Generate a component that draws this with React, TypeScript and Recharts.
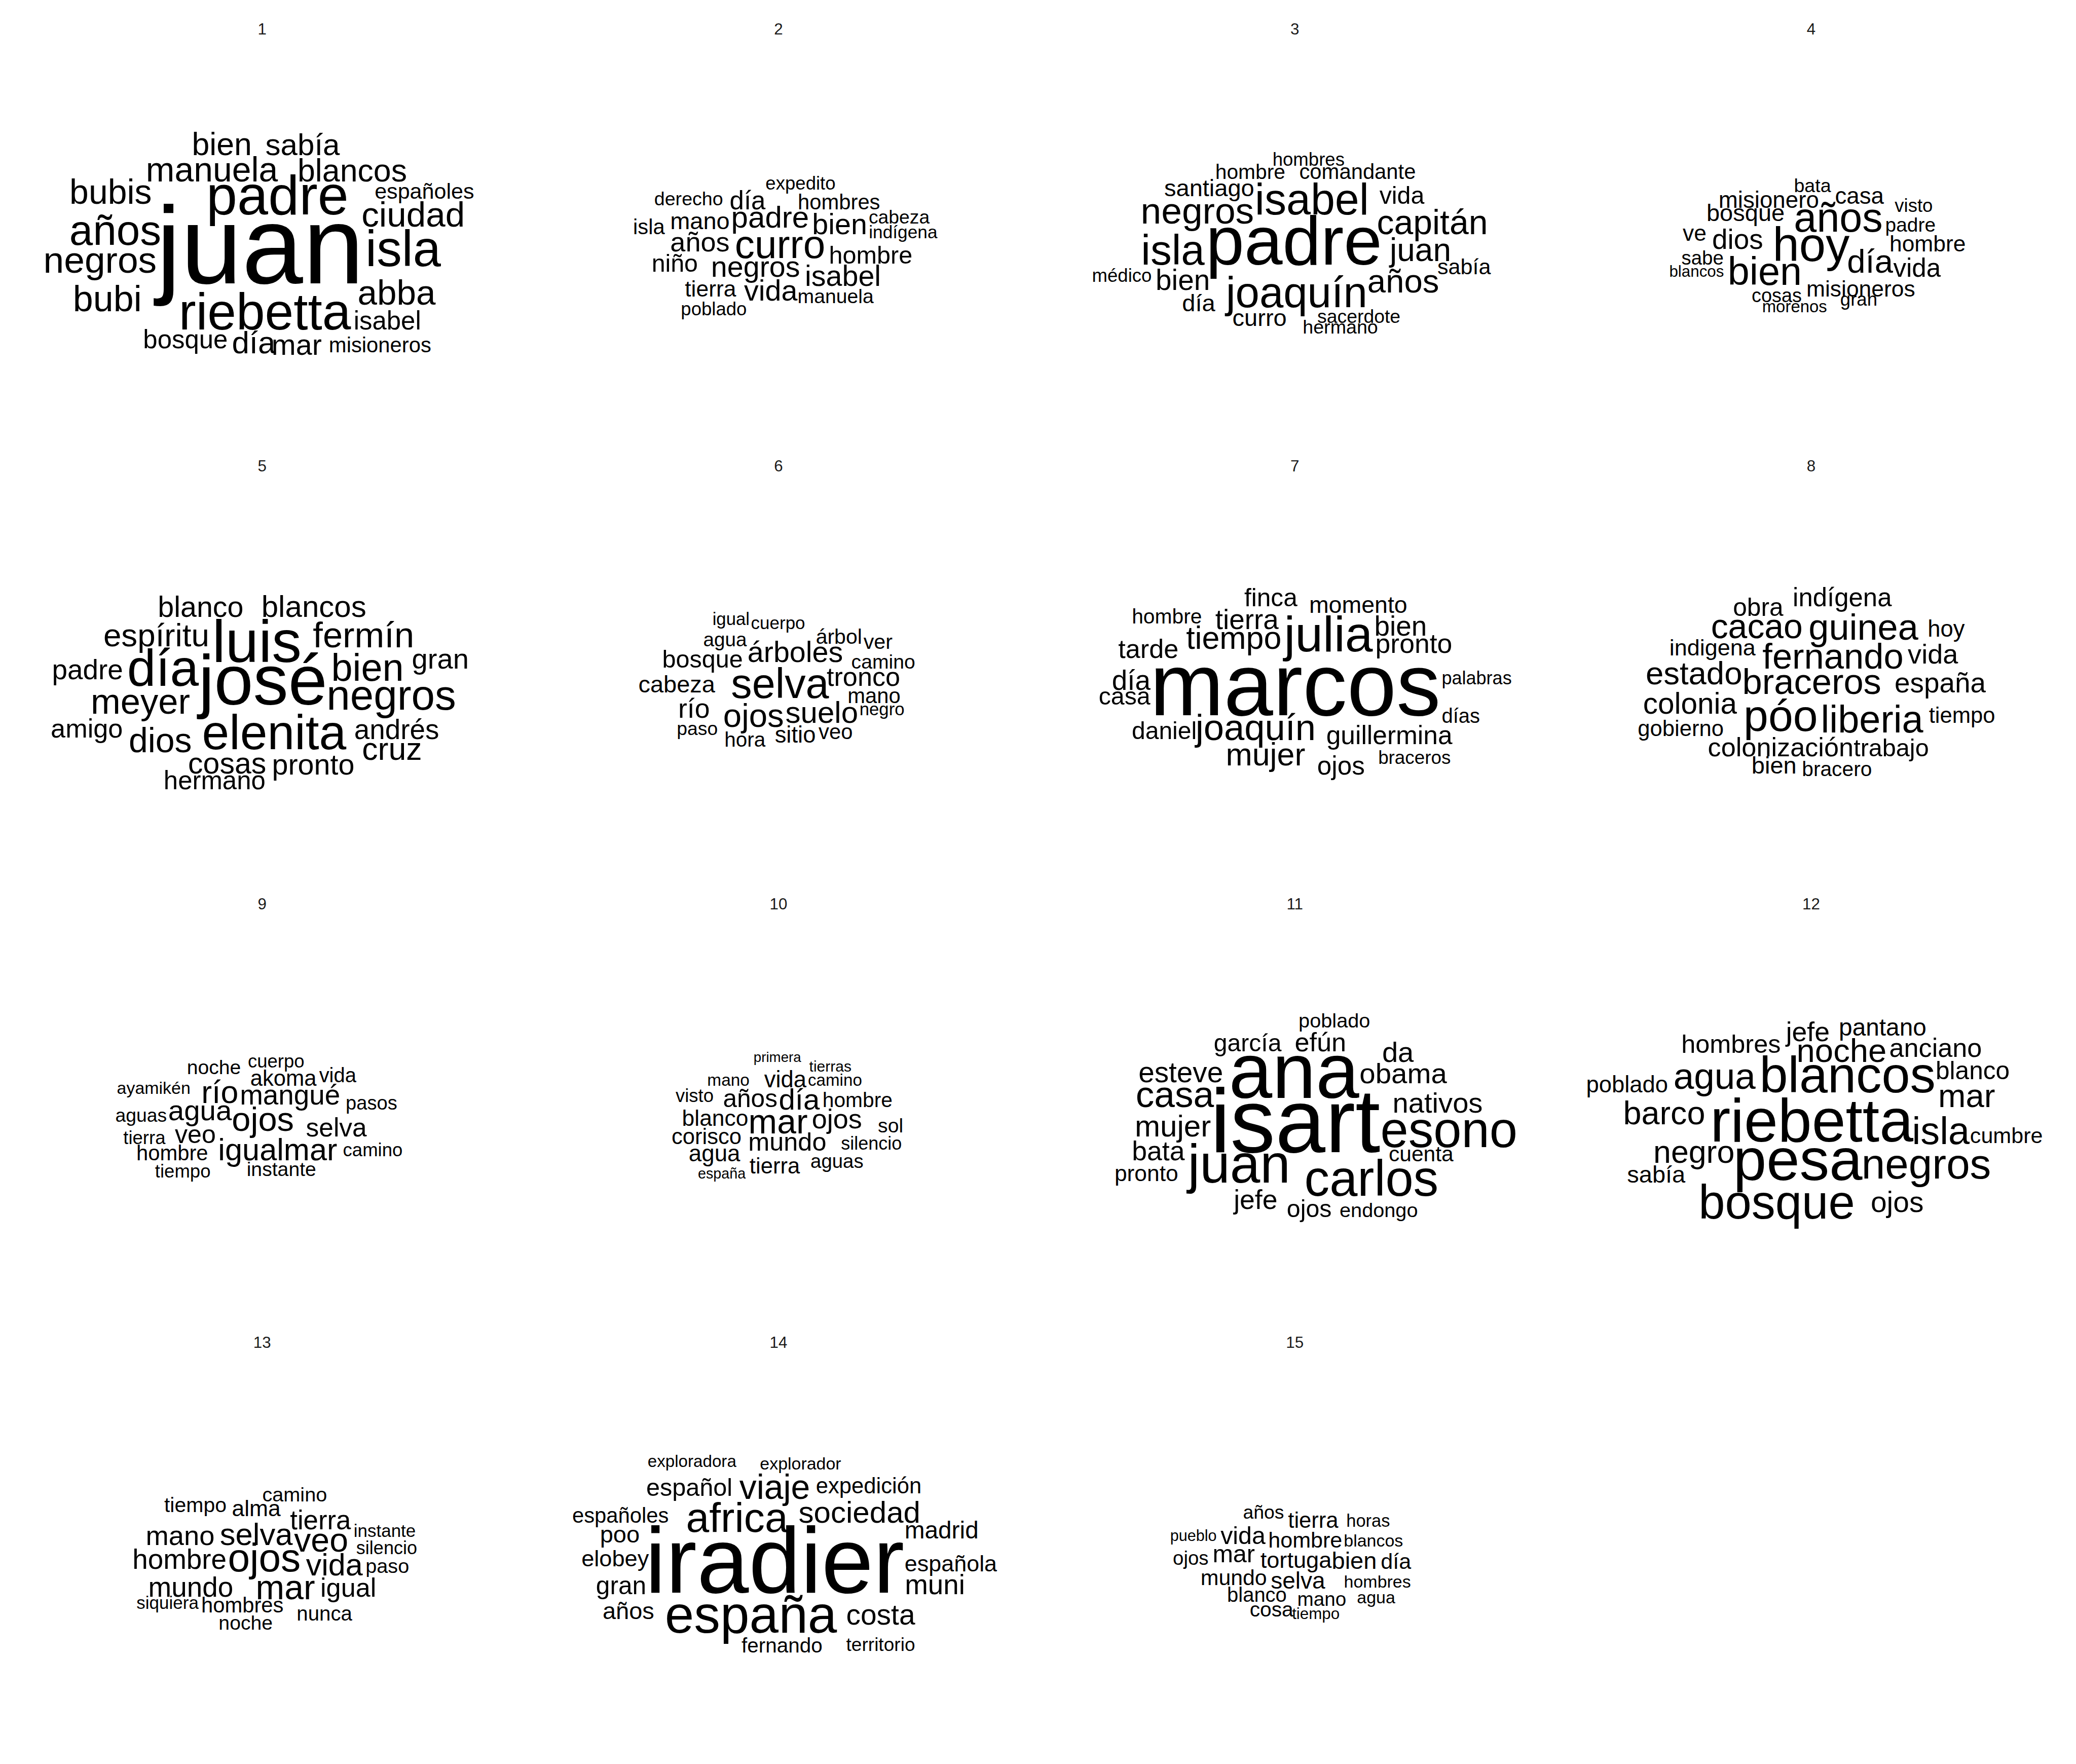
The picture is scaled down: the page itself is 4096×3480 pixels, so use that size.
import React from "react";
import { ScatterChart, Scatter, XAxis, YAxis } from "recharts";

// each word: [text, x from panel centre, baseline y from strip label, weight]
type Word = [string, number, number, number];

const cloud1: Word[] = [
  ["bien", -30.5, 93, 24], ["sabía", 30.5, 93, 23], ["manuela", -38, 113, 26], ["blancos", 68, 113, 24],
  ["españoles", 122.5, 126, 16.5], ["bubis", -114.5, 130, 26], ["padre", 11.5, 138, 42], ["ciudad", 114, 147, 26.5],
  ["años", -111, 161, 32], ["juan", -1.5, 190, 83], ["isla", 106.5, 177, 38], ["negros", -122.5, 182, 28],
  ["abba", 101.5, 206, 26.5], ["bubi", -117, 211, 27.5], ["riebetta", 2, 225, 39], ["isabel", 94.5, 225, 19.5],
  ["bosque", -58, 239, 19.5], ["día", -6.5, 243, 23.7], ["mar", 26, 244, 22], ["misioneros", 89, 242, 16],
];
const cloud2: Word[] = [
  ["expedito", 16.5, 119, 14], ["derecho", -68, 131, 14.4], ["día", -23.5, 134, 19.5], ["hombres", 45.5, 134, 16],
  ["isla", -98, 153, 16], ["mano", -59.5, 149, 18], ["padre", -6.5, 148, 23], ["bien", 46, 153, 22],
  ["cabeza", 91, 145, 14.3], ["indígena", 94, 156, 13.5], ["años", -59.5, 166, 20.7], ["curro", 1, 171, 30],
  ["hombre", 69.5, 175, 18.6], ["niño", -78.5, 181, 18.5], ["negros", -17.5, 185, 22], ["isabel", 48.5, 192, 22],
  ["tierra", -51.5, 200, 17], ["vida", -6, 203, 22], ["manuela", 43, 205, 15], ["poblado", -49, 214, 14],
];
const cloud3: Word[] = [
  ["hombres", 10.5, 101, 14], ["hombre", -33.5, 111, 15.6], ["comandante", 47.5, 111, 16], ["santiago", -64.5, 124, 18],
  ["isabel", 13, 138, 33], ["vida", 81, 130, 18.5], ["negros", -73.5, 145, 28], ["capitán", 104, 153, 26],
  ["isla", -92, 176, 32], ["padre", -0.5, 176, 52], ["juan", 95, 173, 24.5], ["sabía", 128, 183, 16.5],
  ["médico", -130.5, 189, 14], ["bien", -84.5, 195, 21.7], ["años", 82, 197, 25], ["joaquín", 1.5, 208, 32.6],
  ["día", -72.5, 211, 18], ["curro", -26.5, 222, 18], ["sacerdote", 48.5, 220, 14.3], ["hermano", 34.5, 228, 14.4],
];
const cloud4: Word[] = [
  ["bata", 1, 121, 14.4], ["misionero", -32, 133, 17.5], ["casa", 36.5, 130, 17.5], ["visto", 77.5, 136, 14],
  ["bosque", -49.5, 143, 18], ["años", 20.5, 151, 31], ["padre", 75, 151, 14.9], ["ve", -88, 158, 17],
  ["dios", -55.5, 164, 21], ["hoy", 0, 173, 36], ["hombre", 88, 166, 17], ["sabe", -82, 176, 14.7],
  ["blancos", -86.5, 185, 12], ["día", 44.5, 182, 25], ["vida", 80, 185, 19.6], ["bien", -35, 191, 29.6],
  ["misioneros", 37.5, 200, 17], ["cosas", -26, 204, 14.5], ["gran", 36, 207, 14], ["morenos", -12.5, 212, 12.6],
];
const cloud5: Word[] = [
  ["blanco", -46.5, 112, 22], ["blancos", 39, 112, 23], ["espíritu", -80, 134, 24.4], ["luis", -4, 146, 45],
  ["fermín", 76.5, 135, 27], ["padre", -132, 159, 21], ["día", -75, 164, 39], ["josé", 0.5, 178, 53],
  ["bien", 79.5, 160, 29], ["gran", 134.5, 151, 21.5], ["meyer", -92, 185, 27], ["negros", 97.5, 182, 32],
  ["amigo", -132.5, 203, 20], ["dios", -77, 214, 26], ["elenita", 9, 212, 37], ["andrés", 101.5, 204, 21],
  ["cruz", 98, 220, 24], ["cosas", -26.5, 230, 22.6], ["pronto", 38.5, 231, 22], ["hermano", -36, 242, 19.5],
];
const cloud6: Word[] = [
  ["igual", -36, 118, 13.3], ["cuerpo", -0.5, 121, 13.4], ["agua", -40.5, 134, 14.8], ["árbol", 45.5, 132, 15.7],
  ["ver", 75, 136, 15.8], ["bosque", -57.5, 150, 18.6], ["árboles", 12.5, 146, 22], ["camino", 79, 151, 15],
  ["cabeza", -77, 169, 18], ["selva", 1, 173, 31.7], ["tronco", 64, 164, 20], ["mano", 72, 177, 16],
  ["río", -64, 188, 20.5], ["ojos", -19, 195, 25], ["suelo", 32.5, 192, 23], ["negro", 78, 186, 13.3],
  ["paso", -61.5, 201, 14.3], ["hora", -25.5, 210, 15.5], ["sitio", 12.5, 207, 17.4], ["veo", 43, 204, 16],
];
const cloud7: Word[] = [
  ["finca", -18, 104, 19], ["momento", 48, 109, 17.8], ["hombre", -96.5, 117, 15.6], ["tierra", -36, 121, 21],
  ["julia", 25.5, 138, 37.7], ["bien", 80, 126, 21], ["tiempo", -46, 136, 24], ["pronto", 90, 139, 20.5],
  ["tarde", -110.5, 143, 20], ["marcos", 0.5, 186, 67], ["palabras", 137.5, 163, 13.8], ["día", -123.5, 167, 21],
  ["casa", -128.5, 178, 18.5], ["días", 125.5, 192, 15.3], ["daniel", -98.5, 204, 18.4], ["joaquín", -29.5, 205, 27.7],
  ["guillermina", 71.5, 208, 19.7], ["mujer", -22, 224, 24], ["braceros", 90.5, 223, 14.1], ["ojos", 35, 231, 19.6],
];
const cloud8: Word[] = [
  ["obra", -40, 111, 19], ["indígena", 23.5, 104, 19.5], ["cacao", -41, 128, 26], ["guinea", 39.5, 129, 27.6],
  ["hoy", 102, 127, 17.4], ["indigena", -74.5, 141, 17.2], ["fernando", 16.5, 151, 27], ["vida", 92, 147, 20.7],
  ["estado", -88.5, 163, 24.3], ["braceros", 0.5, 170, 27], ["españa", 97.5, 169, 21], ["colonia", -91.5, 185, 22.4],
  ["póo", -23, 198, 33.6], ["liberia", 46, 199, 29], ["tiempo", 114, 192, 16.7], ["gobierno", -98.5, 202, 16.7],
  ["colonización", -23, 217, 20], ["trabajo", 60.5, 217, 18.6], ["bien", -28, 230, 18], ["bracero", 19.5, 232, 15.6],
];
const cloud9: Word[] = [
  ["cuerpo", 10.5, 121, 14], ["noche", -36.5, 126, 15], ["akoma", 16, 135, 16.7], ["vida", 57, 132, 15.3],
  ["ayamikén", -82, 141, 13], ["río", -32, 148, 24], ["mangué", 21, 149, 21], ["pasos", 82.5, 153, 14.6],
  ["aguas", -91.5, 162, 14.3], ["agua", -47, 161, 21.6], ["ojos", 0.5, 169, 25.6], ["selva", 56, 173, 19.7],
  ["tierra", -89, 179, 14], ["veo", -50.5, 178, 19.2], ["igual", -8.5, 191, 23.5], ["mar", 36.5, 191, 23.5],
  ["camino", 83.5, 188, 14], ["hombre", -68, 191, 16], ["tiempo", -60, 204, 14], ["instante", 14.5, 203, 15],
];
const cloud10: Word[] = [
  ["primera", -1, 117, 10.6], ["tierras", 39, 124, 11.5], ["mano", -38, 135, 12.8], ["vida", 5, 136, 17.4],
  ["camino", 42.5, 135, 12.7], ["visto", -63.5, 147, 14], ["años", -21.5, 151, 19], ["día", 15.5, 153, 22.3],
  ["hombre", 59.5, 151, 15.6], ["blanco", -48, 165, 17], ["mar", -0.5, 171, 26], ["ojos", 44, 167, 20.7],
  ["sol", 84.5, 170, 15], ["corisco", -54.5, 179, 16.7], ["mundo", 6.5, 184, 19.3], ["silencio", 70, 183, 13.8],
  ["agua", -48.5, 192, 17.5], ["tierra", -3, 201, 16.7], ["aguas", 44, 197, 14.7], ["españa", -43, 205, 11],
];
const cloud11: Word[] = [
  ["poblado", 30, 91, 15.2], ["garcía", -35.5, 109, 18.4], ["efún", 19.5, 109, 20], ["da", 78, 117, 21.5],
  ["esteve", -86, 132, 21.7], ["ana", -0.5, 144, 59], ["obama", 82, 133, 21.6], ["casa", -90.5, 151, 28],
  ["nativos", 108, 155, 21.5], ["isart", 0.5, 185, 68], ["esono", 116.5, 181, 38], ["mujer", -92, 173, 23],
  ["bata", -103, 191, 20.5], ["cuenta", 95.5, 192, 16.3], ["pronto", -112, 207, 17], ["juan", -42, 208, 41],
  ["carlos", 58, 218, 38], ["jefe", -29.5, 228, 20.5], ["ojos", 11, 234, 18.5], ["endongo", 63.5, 234, 15.2],
];
const cloud12: Word[] = [
  ["pantano", 54, 97, 18.3], ["jefe", -2.5, 101, 20.5], ["hombres", -60.5, 110, 19.3], ["noche", 23, 117, 25],
  ["anciano", 94, 113, 20], ["blanco", 122, 130, 19], ["poblado", -139, 140, 17.4], ["agua", -73, 137, 27.9],
  ["blancos", 27.5, 140, 38.6], ["mar", 117.5, 151, 25], ["barco", -111, 164, 24.8], ["riebetta", 0.5, 177, 46],
  ["isla", 98, 179, 29], ["cumbre", 147.5, 178, 16.5], ["negro", -88.5, 193, 24], ["pesa", -10, 206, 45],
  ["negros", 87, 205, 32], ["sabía", -117, 208, 18], ["bosque", -26, 235, 36], ["ojos", 65, 230, 21.8],
];
const cloud13: Word[] = [
  ["camino", 24.5, 118, 15.2], ["tiempo", -50.5, 126, 15.7], ["alma", -4.5, 129, 17], ["tierra", 44, 139, 20.2],
  ["instante", 92.5, 145, 13.4], ["mano", -62, 151, 20.8], ["selva", -4.5, 151, 23.6], ["veo", 44.5, 156, 25.4],
  ["silencio", 94, 158, 13.8], ["hombre", -62.5, 169, 21], ["ojos", 1.5, 171, 30], ["vida", 54.5, 174, 23.4],
  ["paso", 94.5, 172, 15.2], ["mundo", -54, 190, 21], ["mar", 17.5, 192, 26], ["igual", 65, 190, 20],
  ["siquiera", -71.5, 199, 13.4], ["hombres", -15, 202, 16], ["nunca", 47, 208, 15.4], ["noche", -12.5, 215, 15],
];
const cloud14: Word[] = [
  ["exploradora", -65.5, 92, 12.7], ["explorador", 16.5, 94, 13], ["español", -67.5, 114, 18.6], ["viaje", -3, 116, 26],
  ["expedición", 68, 112, 16.7], ["españoles", -119.5, 134, 16], ["africa", -31.5, 141, 31.5], ["sociedad", 61, 134, 23],
  ["madrid", 123, 146, 18.3], ["poo", -120, 149, 18], ["elobey", -123.5, 167, 17.3], ["iradier", -3, 187, 70.5],
  ["española", 130, 171, 17.2], ["muni", 118, 188, 21], ["gran", -119, 188, 19], ["años", -113.5, 207, 18],
  ["españa", -21, 217, 39.6], ["costa", 77, 211, 21.8], ["fernando", 2.5, 232, 15.5], ["territorio", 77, 231, 14.2],
];
const cloud15: Word[] = [
  ["años", -23.5, 131, 14.3], ["tierra", 14, 138, 16.7], ["horas", 55.5, 137, 13.2], ["pueblo", -76.5, 148, 11.7],
  ["vida", -39, 150, 18.5], ["hombre", 8, 153, 16.5], ["blancos", 59.5, 152, 13], ["ojos", -78.5, 166, 14.7],
  ["mar", -46, 164, 18.6], ["tortuga", 1, 168, 17.3], ["bien", 45, 169, 18], ["día", 76.5, 169, 16.5],
  ["mundo", -46, 181, 16.4], ["selva", 2.5, 184, 17.6], ["hombres", 62.5, 183, 13], ["blanco", -28.5, 194, 15.3],
  ["mano", 20.5, 197, 14.8], ["agua", 61.5, 195, 13], ["cosa", -17.5, 205, 15.6], ["tiempo", 16, 207, 12],
];

const clouds = [cloud1, cloud2, cloud3, cloud4, cloud5, cloud6, cloud7, cloud8, cloud9, cloud10, cloud11, cloud12, cloud13, cloud14, cloud15];
const panelLabels = clouds.map((_, i) => String(i + 1));

// layout in reference units (1568 wide picture), scaled up to the window
const K = 4096 / 1568;
const PANEL_W = 390;
const PANEL_H = 331;
const COL_LEFT = [3, 393, 783, 1173];
const ROW_TOP = [0, 330, 661, 992];
const FONT = "'Liberation Sans', Arial, Helvetica, sans-serif";

function WordShape(props: any) {
  const { cx, cy, payload } = props;
  return (
    <text x={cx} y={cy} fontSize={payload.weight * K} textAnchor="middle" fill="#000" fontFamily={FONT}>
      {payload.word}
    </text>
  );
}

function Cloud({ words, label }: { words: Word[]; label: string }) {
  const data = words.map(([word, x, y, weight]) => ({ word, x, y, weight }));
  return (
    <div style={{ position: "relative", width: PANEL_W * K, height: PANEL_H * K }}>
      <div
        style={{
          position: "absolute", left: 0, right: 0, top: 16 * K, textAlign: "center",
          fontFamily: FONT, fontSize: 12 * K, lineHeight: 1, color: "#1a1a1a",
        }}
      >
        {label}
      </div>
      <ScatterChart width={PANEL_W * K} height={PANEL_H * K} margin={{ top: 0, right: 0, bottom: 0, left: 0 }}>
        <XAxis type="number" dataKey="x" domain={[-PANEL_W / 2, PANEL_W / 2]} allowDataOverflow hide />
        <YAxis type="number" dataKey="y" domain={[-24, PANEL_H - 24]} reversed allowDataOverflow hide />
        <Scatter data={data} shape={WordShape} isAnimationActive={false} />
      </ScatterChart>
    </div>
  );
}

export default function App() {
  return (
    <div style={{ position: "absolute", left: 0, top: 0, width: 4096, height: 3480, background: "#fff" }}>
      {clouds.map((words, i) => (
        <div
          key={i}
          style={{ position: "absolute", left: COL_LEFT[i % 4] * K, top: ROW_TOP[Math.floor(i / 4)] * K }}
        >
          <Cloud words={words} label={panelLabels[i]} />
        </div>
      ))}
    </div>
  );
}
